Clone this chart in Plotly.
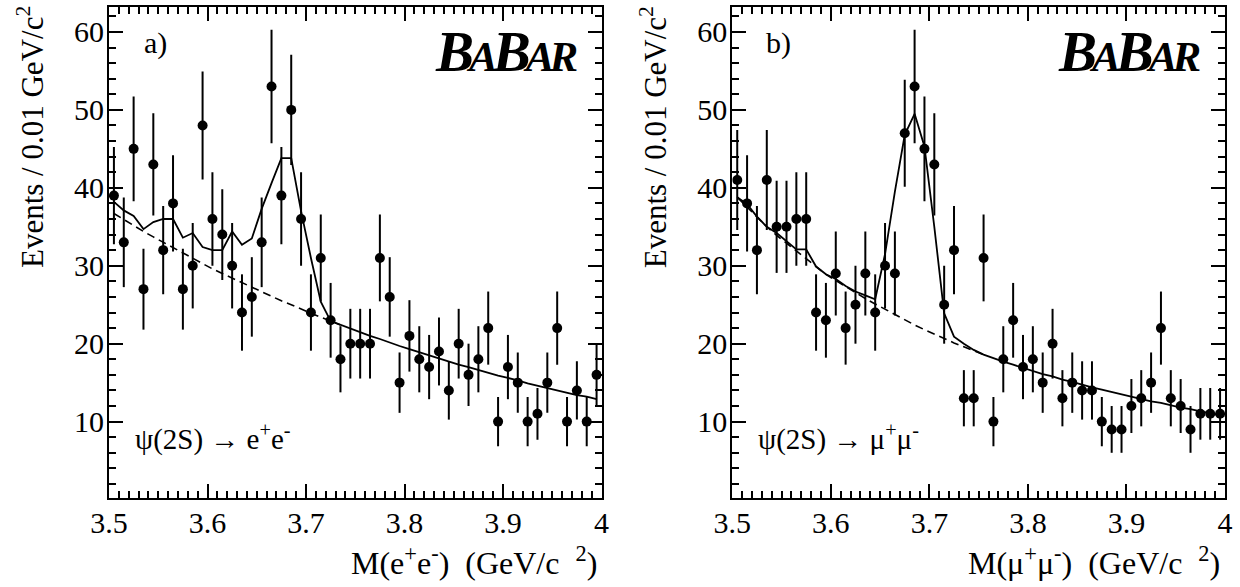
import numpy as np
import plotly.graph_objects as go

# ---------------- data ----------------
bin_centers = [3.505, 3.515, 3.525, 3.535, 3.545, 3.555, 3.565, 3.575, 3.585, 3.595,
               3.605, 3.615, 3.625, 3.635, 3.645, 3.655, 3.665, 3.675, 3.685, 3.695,
               3.705, 3.715, 3.725, 3.735, 3.745, 3.755, 3.765, 3.775, 3.785, 3.795,
               3.805, 3.815, 3.825, 3.835, 3.845, 3.855, 3.865, 3.875, 3.885, 3.895,
               3.905, 3.915, 3.925, 3.935, 3.945, 3.955, 3.965, 3.975, 3.985, 3.995]

ee_counts = [39, 33, 45, 27, 43, 32, 38, 27, 30, 48,
             36, 34, 30, 24, 26, 33, 53, 39, 50, 36,
             24, 31, 23, 18, 20, 20, 20, 31, 26, 15,
             21, 18, 17, 19, 14, 20, 16, 18, 22, 10,
             17, 15, 10, 11, 15, 22, 10, 14, 10, 16]

mm_counts = [41, 38, 32, 41, 35, 35, 36, 36, 24, 23,
             29, 22, 25, 29, 24, 30, 29, 47, 53, 45,
             43, 25, 32, 13, 13, 31, 10, 18, 23, 17,
             18, 15, 20, 13, 15, 14, 14, 10, 9, 9,
             12, 13, 15, 22, 13, 12, 9, 11, 11, 11]

ee_fit = [38.2, 37.1, 36.4, 34.7, 35.6, 36.0, 36.0, 33.6, 34.2, 32.4,
          32.0, 32.0, 34.4, 32.7, 33.5, 37.3, 40.6, 43.8, 43.8, 37.0,
          31.0, 25.4, 22.9, 22.4, 21.9, 21.5, 21.0, 20.6, 20.1, 19.7,
          19.3, 18.9, 18.5, 18.1, 17.7, 17.3, 17.0, 16.6, 16.3, 15.9,
          15.6, 15.3, 14.9, 14.6, 14.3, 14.0, 13.7, 13.4, 13.2, 12.9]

ee_bkg = [36.7, 35.9, 35.2, 34.4, 33.7, 33.0, 32.3, 31.6, 30.9, 30.3,
          29.6, 29.0, 28.4, 27.8, 27.2, 26.6, 26.1, 25.5, 25.0, 24.4,
          23.9, 23.4, 22.9, 22.4, 21.9, 21.5, 21.0, 20.6, 20.1, 19.7,
          19.3, 18.9, 18.5, 18.1, 17.7, 17.3, 17.0, 16.6, 16.3, 15.9,
          15.6, 15.3, 14.9, 14.6, 14.3, 14.0, 13.7, 13.4, 13.2, 12.9]

mm_fit = [38.8, 37.9, 36.3, 35.0, 34.2, 33.2, 32.1, 32.1, 29.9, 28.9,
          28.3, 27.4, 26.7, 26.2, 25.7, 31.5, 39.5, 46.8, 49.5, 45.3,
          35.0, 23.9, 20.9, 20.0, 19.2, 18.6, 18.1, 17.7, 17.3, 16.9,
          16.5, 16.1, 15.8, 15.4, 15.1, 14.7, 14.4, 14.1, 13.8, 13.5,
          13.2, 12.9, 12.6, 12.4, 12.1, 11.8, 11.6, 11.3, 11.1, 10.8]

mm_bkg = [38.8, 37.5, 36.2, 35.0, 33.9, 32.9, 31.9, 30.9, 29.9, 28.9,
          28.1, 27.3, 26.5, 25.8, 25.1, 24.4, 23.7, 23.0, 22.4, 21.8,
          21.2, 20.6, 20.1, 19.6, 19.1, 18.6, 18.1, 17.7, 17.3, 16.9,
          16.5, 16.1, 15.8, 15.4, 15.1, 14.7, 14.4, 14.1, 13.8, 13.5,
          13.2, 12.9, 12.6, 12.4, 12.1, 11.8, 11.6, 11.3, 11.1, 10.8]

x_tickvals = [3.5, 3.6, 3.7, 3.8, 3.9, 4.0]
x_ticktext = ["3.5", "3.6", "3.7", "3.8", "3.9", "4"]
y_tickvals = [10, 20, 30, 40, 50, 60]
y_ticktext = ["10", "20", "30", "40", "50", "60"]

ee_dash_end = 24   # dashed background drawn where it is not covered by fit
mm_dash_end = 26

# ---------------- figure ----------------
W, H = 1240, 587
FONT = "Liberation Serif"
NB = "\u00a0"

fig = go.Figure()

def add_panel(counts, fit, bkg, dash_end, xa, ya):
    fig.add_trace(go.Scatter(
        x=bin_centers[:dash_end], y=bkg[:dash_end], mode="lines",
        line=dict(color="black", width=1.6, dash="8px,5px"),
        xaxis=xa, yaxis=ya, showlegend=False, hoverinfo="skip"))
    fig.add_trace(go.Scatter(
        x=bin_centers, y=fit, mode="lines",
        line=dict(color="black", width=1.8),
        xaxis=xa, yaxis=ya, showlegend=False, hoverinfo="skip"))
    fig.add_trace(go.Scatter(
        x=bin_centers, y=counts, mode="markers",
        marker=dict(color="black", size=10, symbol="circle"),
        error_y=dict(type="data", array=np.sqrt(np.array(counts, dtype=float)),
                     symmetric=True, color="black", thickness=2, width=0),
        xaxis=xa, yaxis=ya, showlegend=False))

add_panel(ee_counts, ee_fit, ee_bkg, ee_dash_end, "x", "y")
add_panel(mm_counts, mm_fit, mm_bkg, mm_dash_end, "x2", "y2")

left1, right1 = 109 / W, 601.5 / W
left2, right2 = 732.3 / W, 1225 / W
bottom, top = 1 - 498 / H, 1 - 7 / H

def xaxis_cfg(domain, anchor):
    return dict(domain=domain, anchor=anchor, range=[3.5, 4.0], automargin=False,
                showline=True, linewidth=2, linecolor="black", mirror="ticks",
                ticks="inside", ticklen=14, tickwidth=2, tickcolor="black",
                tickvals=x_tickvals, ticktext=x_ticktext, ticklabelstandoff=-3,
                tickfont=dict(family=FONT, size=30, color="black"),
                minor=dict(ticks="inside", ticklen=7, tickwidth=1.5, tickcolor="black",
                           dtick=0.01, tick0=3.5, showgrid=False),
                showgrid=False, zeroline=False, fixedrange=True)

def yaxis_cfg(anchor):
    return dict(domain=[bottom, top], anchor=anchor, range=[0.2, 63.2], automargin=False,
                showline=True, linewidth=2, linecolor="black", mirror="ticks",
                ticks="inside", ticklen=14, tickwidth=2, tickcolor="black",
                tickvals=y_tickvals, ticktext=y_ticktext, ticklabelstandoff=-3,
                tickfont=dict(family=FONT, size=30, color="black"),
                minor=dict(ticks="inside", ticklen=7, tickwidth=1.5, tickcolor="black",
                           dtick=2, tick0=0, showgrid=False),
                showgrid=False, zeroline=False, fixedrange=True)

fig.update_layout(
    template="none",
    width=W, height=H,
    margin=dict(l=0, r=0, t=0, b=0, pad=0),
    paper_bgcolor="white", plot_bgcolor="white",
    font=dict(family=FONT, color="black"),
    showlegend=False,
    xaxis=xaxis_cfg([left1, right1], "y"),
    yaxis=yaxis_cfg("x"),
    xaxis2=xaxis_cfg([left2, right2], "y2"),
    yaxis2=yaxis_cfg("x2"),
)

def px_x(v):
    return v / W

def px_y(v):
    return 1 - v / H

babar = ("<b><i><span style='letter-spacing:-5px'>B<span style='font-size:43px'>A</span>"
         "B<span style='font-size:43px'>AR</span></span></i></b>")

annots = []
for (axis_left, axis_right, tag, decay, xtitle) in [
        (109, 601.5, "a)", "ψ(2S)" + NB + "→" + NB + "e<sup>+</sup>e<sup>-</sup>",
         "M(e<sup>+</sup>e<sup>-</sup>)" + NB * 2 + "(GeV/c" + NB * 2 + "<sup>2</sup>)"),
        (732.3, 1225, "b)", "ψ(2S)" + NB + "→" + NB + "μ<sup>+</sup>μ<sup>-</sup>",
         "M(μ<sup>+</sup>μ<sup>-</sup>)" + NB * 2 + "(GeV/c" + NB * 2 + "<sup>2</sup>)")]:
    # y title
    annots.append(dict(xref="paper", yref="paper", x=px_x(axis_left - 79), y=px_y(4),
                       xanchor="center", yanchor="top", textangle=-90, showarrow=False,
                       text="Events / 0.01 GeV/c<sup>2</sup>",
                       font=dict(family=FONT, size=31, color="black")))
    # x title
    annots.append(dict(xref="paper", yref="paper", x=px_x(axis_right - 3), y=px_y(561),
                       xanchor="right", yanchor="middle", showarrow=False,
                       text=xtitle, font=dict(family=FONT, size=32, color="black")))
    # panel tag
    annots.append(dict(xref="paper", yref="paper", x=px_x(axis_left + 46), y=px_y(43),
                       xanchor="center", yanchor="middle", showarrow=False,
                       text=tag, font=dict(family=FONT, size=30, color="black")))
    # decay label
    annots.append(dict(xref="paper", yref="paper", x=px_x(axis_left + 24), y=px_y(437),
                       xanchor="left", yanchor="middle", showarrow=False,
                       text=decay, font=dict(family=FONT, size=29, color="black")))
    # BaBar logo
    annots.append(dict(xref="paper", yref="paper", x=px_x(axis_right - 23), y=px_y(52),
                       xanchor="right", yanchor="middle", showarrow=False,
                       text=babar, font=dict(family=FONT, size=57, color="black")))

fig.update_layout(annotations=annots)

fig.write_html("out.html",
               config={"displayModeBar": False},
               post_script="document.body.style.margin='0';"
                           "document.body.style.padding='0';"
                           "document.body.style.overflow='hidden';")
